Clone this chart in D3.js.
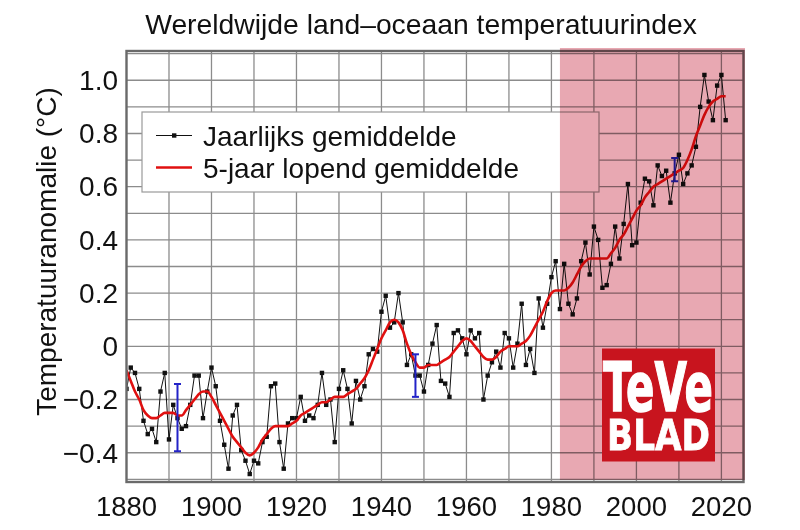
<!DOCTYPE html>
<html><head><meta charset="utf-8">
<script src="https://cdn.jsdelivr.net/npm/d3@7"></script>
<style>body{margin:0;background:#fff}svg{display:block}</style>
</head><body>
<svg id="c" width="800" height="530"></svg>
<script>
const title = "Wereldwijde land–oceaan temperatuurindex";
const yTitle = "Temperatuuranomalie (°C)";
const legendLabels = ["Jaarlijks gemiddelde", "5-jaar lopend gemiddelde"];
const xTicks = [1880,1900,1920,1940,1960,1980,2000,2020];
const yTicks = [-0.4,-0.2,0,0.2,0.4,0.6,0.8,1.0];
const yTickLabels = ["−0.4","−0.2","0","0.2","0.4","0.6","0.8","1.0"];
const startYear = 1880;
const annual = [
-0.16,-0.08,-0.10,-0.16,-0.28,-0.33,-0.31,-0.36,-0.17,-0.10,
-0.35,-0.22,-0.27,-0.31,-0.30,-0.22,-0.11,-0.11,-0.27,-0.17,
-0.08,-0.15,-0.28,-0.37,-0.46,-0.26,-0.22,-0.39,-0.43,-0.48,
-0.43,-0.44,-0.36,-0.34,-0.15,-0.14,-0.36,-0.46,-0.29,-0.27,
-0.27,-0.19,-0.28,-0.26,-0.27,-0.22,-0.10,-0.22,-0.20,-0.36,
-0.16,-0.09,-0.16,-0.29,-0.13,-0.20,-0.15,-0.03,-0.01,-0.02,
0.13,0.19,0.07,0.09,0.20,0.09,-0.07,-0.03,-0.11,-0.11,
-0.17,-0.07,0.01,0.08,-0.13,-0.14,-0.19,0.05,0.06,0.03,
-0.03,0.06,0.03,0.05,-0.20,-0.11,-0.06,-0.02,-0.08,0.05,
0.03,-0.08,0.01,0.16,-0.07,-0.01,-0.10,0.18,0.07,0.16,
0.26,0.32,0.14,0.31,0.16,0.12,0.18,0.32,0.39,0.27,
0.45,0.40,0.22,0.23,0.31,0.45,0.33,0.46,0.61,0.38,
0.39,0.54,0.63,0.62,0.53,0.68,0.64,0.66,0.54,0.65,
0.72,0.61,0.65,0.68,0.75,0.90,1.02,0.92,0.85,0.98,
1.02,0.85];
const smooth = [
-0.09,-0.13,-0.17,-0.20,-0.24,-0.26,-0.27,-0.27,-0.26,-0.25,
-0.25,-0.25,-0.26,-0.26,-0.24,-0.22,-0.20,-0.18,-0.17,-0.17,
-0.19,-0.22,-0.25,-0.28,-0.31,-0.34,-0.36,-0.38,-0.40,-0.41,
-0.40,-0.38,-0.35,-0.33,-0.31,-0.30,-0.30,-0.30,-0.30,-0.29,
-0.28,-0.26,-0.25,-0.24,-0.23,-0.22,-0.21,-0.21,-0.20,-0.19,
-0.19,-0.19,-0.18,-0.17,-0.16,-0.14,-0.12,-0.09,-0.05,-0.01,
0.03,0.06,0.09,0.10,0.09,0.06,0.01,-0.03,-0.06,-0.08,
-0.08,-0.07,-0.07,-0.07,-0.06,-0.05,-0.04,-0.02,0.00,0.02,
0.03,0.02,0.00,-0.02,-0.04,-0.05,-0.05,-0.04,-0.02,-0.01,
0.00,0.00,0.00,0.01,0.02,0.04,0.07,0.10,0.13,0.17,
0.20,0.21,0.21,0.21,0.22,0.24,0.27,0.30,0.32,0.33,
0.33,0.33,0.33,0.33,0.35,0.37,0.40,0.42,0.45,0.48,
0.51,0.53,0.56,0.58,0.60,0.61,0.62,0.63,0.64,0.65,
0.66,0.67,0.70,0.74,0.79,0.83,0.87,0.90,0.92,0.93,
0.94,0.94];
const errYears = [1892,1948,2009];
const errCenters = [-0.268,-0.11,0.664];
const errHalf = [0.126,0.08,0.044];
const highlightFrom = 1982;

const svg = d3.select("#c");
const FONT = "Liberation Sans, Arial, sans-serif";
const L = 126.5, R = 743.5, T = 51, B = 482;
const x = d3.scaleLinear().domain([1880, 2025.2]).range([L, R]);
const y = d3.scaleLinear().domain([-0.51, 1.11]).range([B, T]);

// grid
const g = svg.append("g");
g.selectAll(".vg").data(d3.range(1890, 2025, 10)).join("line")
 .attr("x1", d=>x(d)).attr("x2", d=>x(d)).attr("y1", T).attr("y2", B)
 .attr("stroke", "#8c8c8c").attr("stroke-width", 1.3);
g.selectAll(".hg").data(d3.range(-5, 12).map(i=>i/10)).join("line")
 .attr("x1", L).attr("x2", R).attr("y1", d=>y(d)).attr("y2", d=>y(d))
 .attr("stroke", "#8c8c8c").attr("stroke-width", 1.3);

const years = annual.map((d,i)=>startYear+i);
svg.append("clipPath").attr("id","pc").append("rect")
 .attr("x",L).attr("y",T).attr("width",R-L).attr("height",B-T);
const dg = svg.append("g").attr("clip-path","url(#pc)");
dg.append("path").datum(annual)
 .attr("d", d3.line().x((d,i)=>x(years[i])).y(d=>y(d)))
 .attr("fill","none").attr("stroke","#111").attr("stroke-width",1);
dg.selectAll(".pt").data(annual).join("rect")
 .attr("x",(d,i)=>x(years[i])-2.2).attr("y",d=>y(d)-2.2)
 .attr("width",4.4).attr("height",4.4).attr("fill","#111");
dg.append("path").datum(smooth)
 .attr("d", d3.line().x((d,i)=>x(startYear+i)).y(d=>y(d)).curve(d3.curveMonotoneX))
 .attr("fill","none").attr("stroke","#e01010").attr("stroke-width",2.6);
// error bars
errYears.forEach((yr,i)=>{
  const eg = dg.append("g").attr("stroke","#2323c8").attr("stroke-width",2);
  eg.append("line").attr("x1",x(yr)).attr("x2",x(yr)).attr("y1",y(errCenters[i]+errHalf[i])).attr("y2",y(errCenters[i]-errHalf[i]));
  [errCenters[i]+errHalf[i], errCenters[i]-errHalf[i]].forEach(v=>{
    eg.append("line").attr("x1",x(yr)-3.5).attr("x2",x(yr)+3.5).attr("y1",y(v)).attr("y2",y(v));
  });
});

// legend
const lg = svg.append("g");
lg.append("rect").attr("x",142).attr("y",112).attr("width",457).attr("height",80)
 .attr("fill","#fff").attr("stroke","#9a9a9a").attr("stroke-width",1.2);
lg.append("line").attr("x1",156).attr("x2",192).attr("y1",135.5).attr("y2",135.5).attr("stroke","#111").attr("stroke-width",1);
lg.append("rect").attr("x",172).attr("y",133.3).attr("width",4.4).attr("height",4.4).attr("fill","#111");
lg.append("line").attr("x1",156).attr("x2",192).attr("y1",167.5).attr("y2",167.5).attr("stroke","#e01010").attr("stroke-width",2.6);
lg.selectAll("text").data(legendLabels).join("text")
 .attr("x",203).attr("y",(d,i)=>146+i*32).text(d=>d)
 .attr("font-family",FONT).attr("font-size",28).attr("fill","#111");

// frame
svg.append("rect").attr("x",L).attr("y",T).attr("width",R-L).attr("height",B-T)
 .attr("fill","none").attr("stroke","#6a6a6a").attr("stroke-width",2.4);

// axes labels
svg.selectAll(".xt").data(xTicks).join("text")
 .attr("x",d=>x(d)).attr("y",516).attr("text-anchor","middle").text(d=>d)
 .attr("font-family",FONT).attr("font-size",27.5).attr("fill","#111");
svg.selectAll(".yt").data(yTicks).join("text")
 .attr("x",118).attr("y",d=>y(d)+9.8).attr("text-anchor","end").text((d,i)=>yTickLabels[i])
 .attr("font-family",FONT).attr("font-size",28).attr("fill","#111");
svg.append("text").attr("transform","translate(55.5,251.5) rotate(-90)")
 .attr("text-anchor","middle").text(yTitle)
 .attr("font-family",FONT).attr("font-size",28).attr("fill","#111");
svg.append("text").attr("x",421).attr("y",34).attr("text-anchor","middle").text(title)
 .attr("font-family",FONT).attr("font-size",28.3).attr("fill","#111");

// highlight overlay
svg.append("rect").attr("x",x(highlightFrom)).attr("y",48).attr("width",745-x(highlightFrom)).attr("height",432)
 .attr("fill","rgb(232,168,178)").style("mix-blend-mode","multiply");

// logo
const logo = svg.append("g");
logo.append("rect").attr("x",602).attr("y",348.5).attr("width",113).attr("height",113).attr("fill","#c8141e");
logo.append("text").attr("x",603).attr("y",410.5).text("TeVe")
 .attr("font-family","DejaVu Sans, Liberation Sans, sans-serif").attr("font-weight","bold")
 .attr("font-size",68).attr("fill","#fff").attr("stroke","#fff").attr("stroke-width",1.5)
 .attr("textLength",110).attr("lengthAdjust","spacingAndGlyphs");
logo.append("text").attr("x",607).attr("y",450).text("BLAD")
 .attr("font-family","DejaVu Sans, Liberation Sans, sans-serif").attr("font-weight","bold")
 .attr("font-size",42.5).attr("fill","#fff").attr("stroke","#fff").attr("stroke-width",0.8)
 .attr("textLength",103).attr("lengthAdjust","spacingAndGlyphs");
</script>
</body></html>
